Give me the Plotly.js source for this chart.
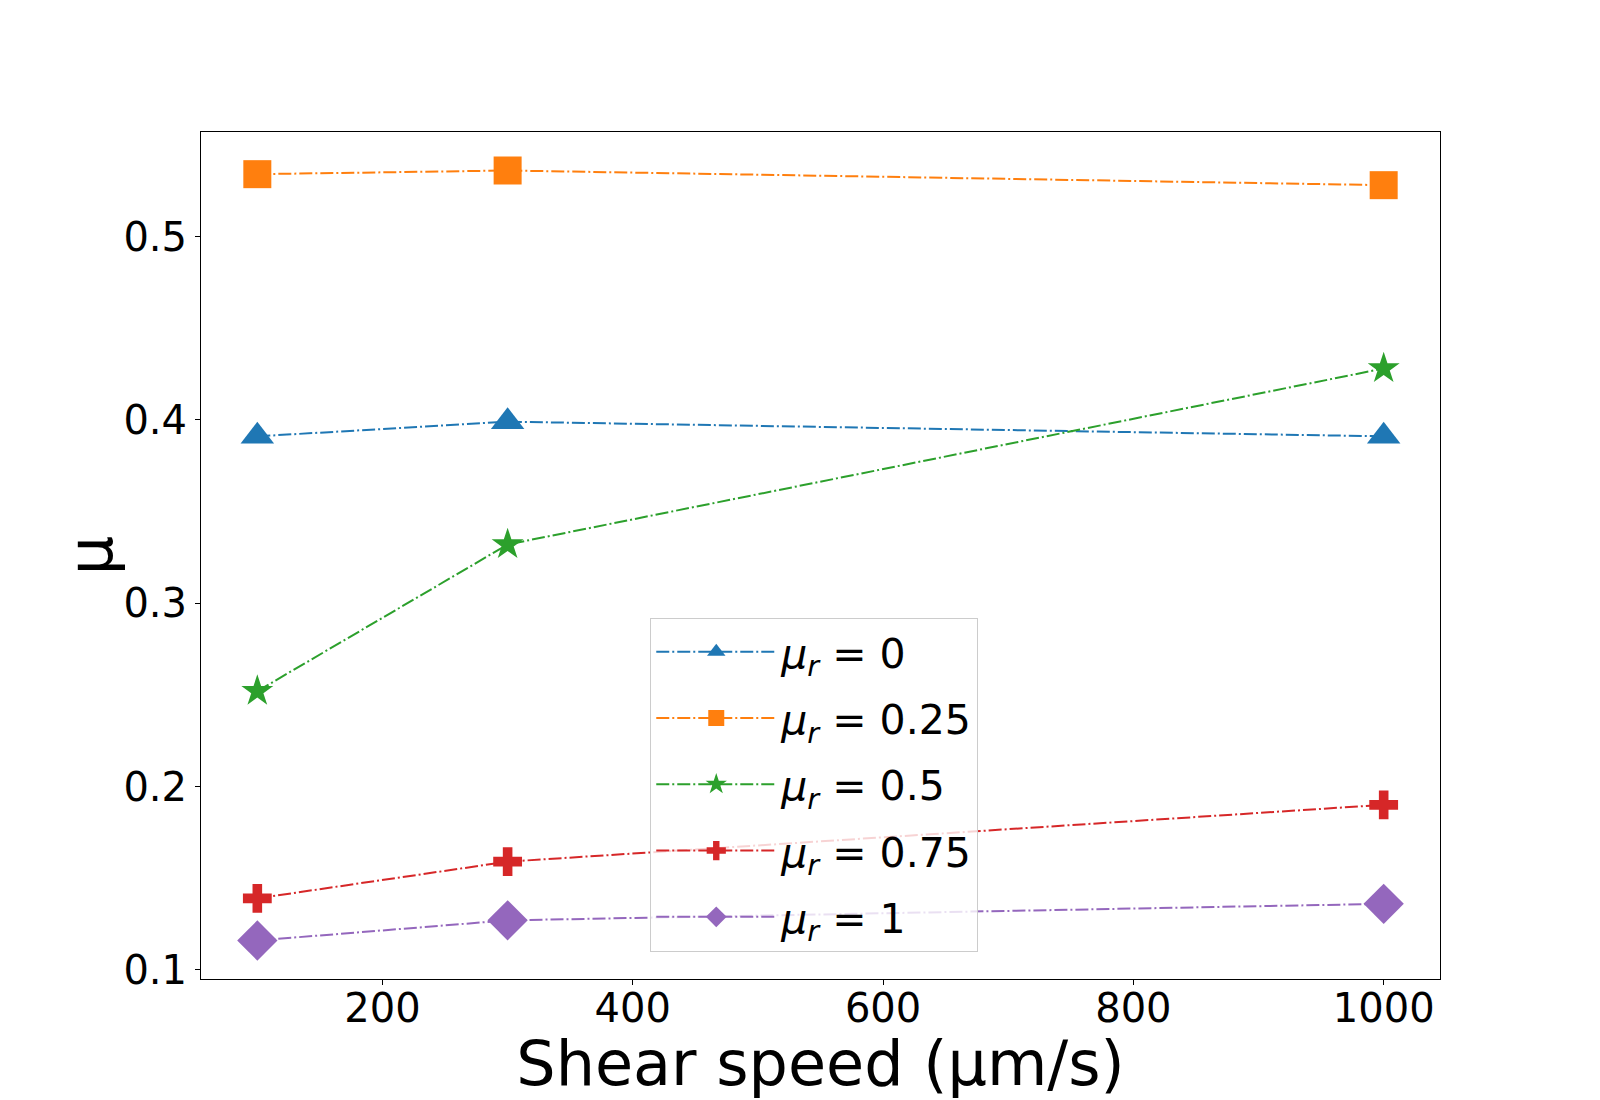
<!DOCTYPE html>
<html>
<head>
<meta charset="utf-8">
<script src="https://cdn.plot.ly/plotly-3.0.1.min.js"></script>
<style>body{margin:0;padding:0;background:#fff;}#chart{width:1600px;height:1100px;}</style>
</head>
<body>
<div id="chart"></div>
<script>
const shearSpeed = [100, 300, 1000];
const mu_r0    = [0.391, 0.399, 0.391];
const mu_r025  = [0.534, 0.536, 0.528];
const mu_r05   = [0.252, 0.332, 0.428];
const mu_r075  = [0.139, 0.159, 0.190];
const mu_r1    = [0.116, 0.127, 0.136];
const seriesNames = ['<i>μ</i><sub><i>r</i></sub> = 0', '<i>μ</i><sub><i>r</i></sub> = 0.25', '<i>μ</i><sub><i>r</i></sub> = 0.5', '<i>μ</i><sub><i>r</i></sub> = 0.75', '<i>μ</i><sub><i>r</i></sub> = 1'];
const xTickVals = [200, 400, 600, 800, 1000];
const yTickVals = [0.1, 0.2, 0.3, 0.4, 0.5];
const xTitle = 'Shear speed (μm/s)';
const yTitle = 'μ';

const seriesValues = [mu_r0, mu_r025, mu_r05, mu_r075, mu_r1];
const colors = ['#1f77b4', '#ff7f0e', '#2ca02c', '#d62728', '#9467bd'];
const symbols = ['triangle-up', 'square', 'star', 'cross', 'diamond'];
const sizes = [29, 28, 24, 24, 31];
const dash = '13px,3px,2px,3px';

const traces = seriesValues.map((vals, i) => ({
  x: shearSpeed, y: vals, name: seriesNames[i], type: 'scatter', mode: 'lines+markers',
  line: {color: colors[i], width: 2, dash: dash},
  marker: {symbol: symbols[i], size: sizes[i], color: colors[i], line: {width: 0}},
  legendgroup: 'g' + i
}));

const allY = [].concat(...seriesValues);
const ymin = Math.min(...allY), ymax = Math.max(...allY);
const yr = ymax - ymin;
const xmin = Math.min(...shearSpeed), xmax = Math.max(...shearSpeed);
const xr = xmax - xmin;

const font = 'DejaVu Sans, sans-serif';
const layout = {
  width: 1600, height: 1100,
  margin: {l: 201, r: 160, t: 132, b: 121, pad: 0},
  paper_bgcolor: '#fff', plot_bgcolor: '#fff',
  font: {family: font, color: '#000', size: 40},
  showlegend: true,
  legend: {
    x: 0.3626, y: 0.4268, xanchor: 'left', yanchor: 'top',
    bgcolor: 'rgba(255,255,255,0.8)', bordercolor: '#cccccc', borderwidth: 1,
    font: {family: font, size: 41, color: '#000'},
    traceorder: 'grouped', tracegroupgap: 10, itemwidth: 120
  },
  xaxis: {
    range: [xmin - 0.05 * xr, xmax + 0.05 * xr],
    tickmode: 'array', tickvals: xTickVals, ticktext: xTickVals.map(String),
    ticks: 'outside', ticklen: 5, tickwidth: 1, tickcolor: '#000',
    ticklabelstandoff: -11,
    showline: true, linecolor: '#000', linewidth: 1, mirror: true,
    showgrid: false, zeroline: false,
    tickfont: {family: font, size: 40, color: '#000'},
    title: {text: xTitle, font: {family: font, size: 62, color: '#000'}, standoff: 6}
  },
  yaxis: {
    range: [ymin - 0.05 * yr, ymax + 0.05 * yr],
    tickmode: 'array', tickvals: yTickVals, ticktext: yTickVals.map(v => v.toFixed(1)),
    ticks: 'outside', ticklen: 5, tickwidth: 1, tickcolor: '#000',
    showline: true, linecolor: '#000', linewidth: 1, mirror: true,
    showgrid: false, zeroline: false,
    tickfont: {family: font, size: 40, color: '#000'}
  },
  annotations: [{
    text: yTitle, xref: 'paper', yref: 'paper', x: -0.089, y: 0.5,
    xanchor: 'center', yanchor: 'middle', textangle: -90, showarrow: false,
    font: {family: font, size: 62, color: '#000'}
  }]
};

Plotly.newPlot('chart', traces, layout, {displayModeBar: false, staticPlot: true});
</script>
</body>
</html>
